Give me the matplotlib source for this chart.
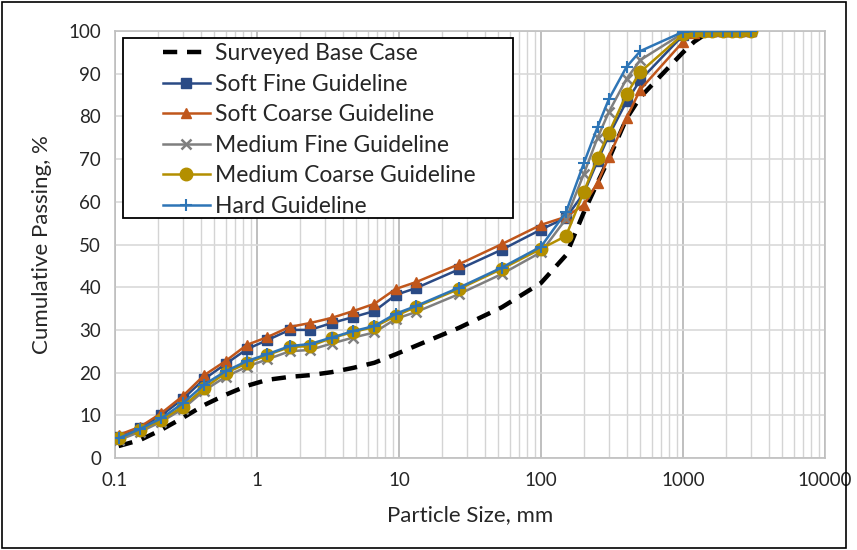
import numpy as np
import matplotlib.pyplot as plt
from matplotlib.ticker import NullFormatter, LogLocator
from matplotlib.patches import Rectangle

plt.rcParams["font.family"] = ["Lato", "DejaVu Sans"]

# sieve sizes, mm
sizes = [0.106, 0.15, 0.212, 0.3, 0.425, 0.6, 0.85, 1.18, 1.7, 2.36, 3.35,
         4.75, 6.7, 9.5, 13.2, 26.5, 53, 100, 150, 200, 250, 300, 400, 500,
         1000, 1200, 1400, 1600, 1900, 2200, 2500, 3000]

base_case = [2.8, 4.2, 6.6, 9.4, 12.4, 14.8, 16.9, 18.3, 19.0, 19.4, 20.1,
             21.1, 22.3, 24.3, 26.3, 30.5, 35.3, 41.0, 47.5, 57.5, 64.5, 70.0,
             79.5, 84.5, 95.0, 97.5, 99.0, 100, 100, 100, 100, 100]
soft_fine = [4.8, 7.0, 10.0, 13.8, 18.5, 22.0, 25.5, 27.6, 30.0, 30.0, 31.6,
             33.0, 34.4, 38.2, 39.8, 44.2, 48.8, 53.5, 56.3, 62.0, 69.5, 75.5,
             83.5, 88.5, 99.0, 100, 100, 100, 100, 100, 100, 100]
soft_coarse = [5.4, 7.3, 10.5, 14.5, 19.4, 22.7, 26.5, 28.3, 30.7, 31.6, 32.8,
               34.4, 36.1, 39.6, 41.2, 45.4, 50.1, 54.6, 56.5, 59.3, 64.4, 70.5,
               79.6, 86.3, 97.5, 99.5, 100, 100, 100, 100, 100, 100]
medium_fine = [4.2, 6.1, 8.5, 11.5, 15.8, 19.0, 21.4, 23.1, 25.0, 25.3, 26.8,
               28.2, 29.4, 32.6, 34.2, 38.4, 43.1, 48.2, 56.0, 66.5, 75.0, 81.0,
               88.8, 93.2, 99.5, 100, 100, 100, 100, 100, 100, 100]
medium_coarse = [4.7, 6.6, 8.9, 12.0, 16.4, 19.9, 22.2, 24.1, 26.0, 26.2, 28.1,
                 29.5, 30.7, 33.3, 35.4, 39.6, 44.3, 49.0, 52.0, 62.3, 70.3, 76.1,
                 85.2, 90.4, 99.2, 100, 100, 100, 100, 100, 100, 100]
hard = [4.6, 6.8, 9.3, 12.8, 17.2, 20.3, 22.7, 24.3, 26.2, 26.7, 28.2,
        29.7, 30.9, 33.8, 35.6, 39.9, 44.6, 49.5, 57.6, 69.0, 77.5, 84.0,
        91.6, 95.3, 99.8, 100, 100, 100, 100, 100, 100, 100]

fig = plt.figure(figsize=(8.57, 5.5), dpi=100)
ax = fig.add_axes([0.1342, 0.1673, 0.8285, 0.7763])

ax.plot(sizes[:28], base_case[:28], color="black", lw=3.2, ls=(0, (3.2, 2.2)),
        label="Surveyed Base Case", zorder=3)
ax.plot(sizes, soft_fine, color="#2A4A85", lw=1.8, marker="s", ms=6.5,
        label="Soft Fine Guideline", zorder=4)
ax.plot(sizes, soft_coarse, color="#C0561B", lw=1.8, marker="^", ms=7,
        label="Soft Coarse Guideline", zorder=4)
ax.plot(sizes, medium_fine, color="#7F7F7F", lw=1.8, marker="x", ms=7, mew=1.8,
        label="Medium Fine Guideline", zorder=4)
ax.plot(sizes, medium_coarse, color="#B38F00", lw=1.8, marker="o", ms=9,
        label="Medium Coarse Guideline", zorder=4)
ax.plot(sizes, hard, color="#2E75B6", lw=1.8, marker="+", ms=9, mew=1.5,
        label="Hard Guideline", zorder=5)

ax.set_xscale("log")
ax.set_xlim(0.1, 10000)
ax.set_ylim(0, 100)
ax.set_xticks([0.1, 1, 10, 100, 1000, 10000])
ax.set_xticklabels(["0.1", "1", "10", "100", "1000", "10000"])
ax.xaxis.set_minor_locator(LogLocator(base=10, subs=np.arange(2, 10)))
ax.xaxis.set_minor_formatter(NullFormatter())
ax.set_yticks(np.arange(0, 101, 10))

ax.grid(which="major", axis="x", color="#BFBFBF", lw=1.4)
ax.grid(which="minor", axis="x", color="#D4D4D4", lw=1.0)
ax.grid(which="major", axis="y", color="#D9D9D9", lw=1.2)
ax.set_axisbelow(True)
ax.tick_params(which="both", length=0, labelsize=13.5, colors="#262626", pad=10)
for s in ax.spines.values():
    s.set_color("#BFBFBF")
    s.set_linewidth(1.2)

ax.set_xlabel("Particle Size, mm", fontsize=16, color="#262626", labelpad=12)
ax.set_ylabel("Cumulative Passing, %", fontsize=16, color="#262626", labelpad=12)

# legend box drawn separately so the handles can sit inset like the original
ax.add_patch(Rectangle((0.0113, 0.562), 0.5493, 0.4216, transform=ax.transAxes,
                       facecolor="white", edgecolor="black", lw=1.3, zorder=6))
leg = ax.legend(loc="upper left", bbox_to_anchor=(0.0676, 0.972), fontsize=16.5,
                frameon=False, handlelength=2.05, handletextpad=0.2,
                labelspacing=0.42, borderpad=0, borderaxespad=0)
leg.set_zorder(7)
for t in leg.get_texts():
    t.set_color("#262626")

fig.patches.append(Rectangle((0.002, 0.003), 0.985, 0.994, transform=fig.transFigure,
                             fill=False, edgecolor="black", lw=1.2))

fig.savefig("out.png", dpi=100)
